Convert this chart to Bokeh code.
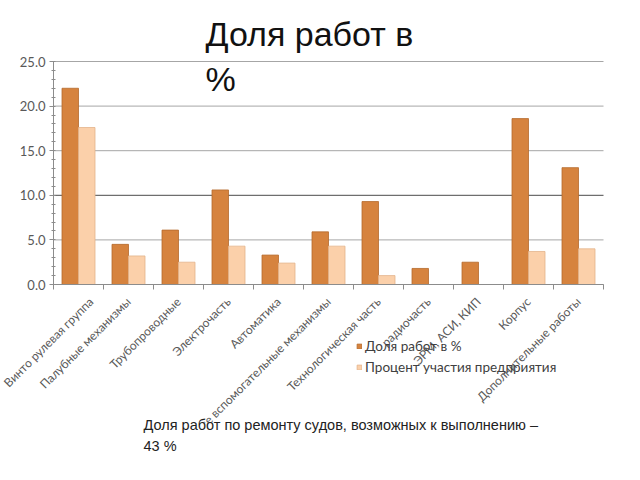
import math
from bokeh.plotting import figure
from bokeh.models import (ColumnDataSource, Range1d, FixedTicker, SingleIntervalTicker,
                          PrintfTickFormatter, Label, Legend, LegendItem, BoxAnnotation)
from bokeh.transform import dodge
from bokeh.embed import file_html
from bokeh.resources import INLINE

categories = ["Винто рулевая группа", "Палубные механизмы", "Трубопроводные",
              "Электрочасть", "Автоматика", "Судовые вспомогательные механизмы",
              "Технологическая часть", "радиочасть", "ЭРМ, АСИ, КИП", "Корпус",
              "Дополнительные работы"]
share_of_work = [22.0, 4.5, 6.1, 10.6, 3.3, 5.9, 9.3, 1.8, 2.5, 18.6, 13.1]
company_share = [17.6, 3.2, 2.5, 4.3, 2.4, 4.3, 1.0, 0.0, 0.0, 3.7, 4.0]
series_names = ["Доля работ в %", "Процент участия предприятия"]
y_ticks = [0, 5, 10, 15, 20, 25]
y_dark_tick = 10

# layout (pixels on the canvas)
W, H = 624, 464
plot_left, plot_right = 53, 603
plot_top, plot_bottom = 61, 284

n = len(categories)
idx = list(range(n))
src = ColumnDataSource(dict(idx=idx, a=share_of_work, b=company_share))

y_max = y_ticks[-1]
ppu_y = (plot_bottom - plot_top) / y_max
ppu_x = (plot_right - plot_left) / n
y_range = Range1d(-(H - plot_bottom) / ppu_y, y_max + plot_top / ppu_y)
x_range = Range1d(-0.5 - plot_left / ppu_x, n - 0.5 + (W - plot_right) / ppu_x)

p = figure(width=W, height=H, output_backend="svg", toolbar_location=None,
           x_range=x_range, y_range=y_range,
           min_border_left=0, min_border_right=0, min_border_top=0, min_border_bottom=0)
p.title.visible = False
p.outline_line_color = None
p.background_fill_color = "white"
p.border_fill_color = "white"
p.xgrid.visible = False
p.ygrid.visible = False

# horizontal grid lines across the plotting area
grid_src = ColumnDataSource(dict(
    y=y_ticks, x0=[-0.5] * len(y_ticks), x1=[n - 0.5] * len(y_ticks),
    color=["#4A4A4A" if t == y_dark_tick else "#A6A6A6" for t in y_ticks]))
p.segment(x0="x0", x1="x1", y0="y", y1="y", line_color="color", line_width=1,
          source=grid_src, level="underlay")

r1 = p.vbar(x=dodge("idx", -0.165, range=p.x_range), top="a", width=0.33, source=src,
            fill_color="#D6833E", line_color="#B56A2C", line_width=0.8)
r2 = p.vbar(x=dodge("idx", 0.165, range=p.x_range), top="b", width=0.33, source=src,
            fill_color="#FBD0AA", line_color="#E3B48C", line_width=0.8)

# x axis, drawn at y = 0
xa = p.xaxis[0]
xa.fixed_location = 0
xa.bounds = (-0.5, n - 0.5)
xa.ticker = FixedTicker(ticks=idx, minor_ticks=[i - 0.5 for i in range(n + 1)])
xa.major_label_overrides = {i: c for i, c in enumerate(categories)}
xa.major_label_orientation = math.pi / 4
xa.major_tick_line_color = None
xa.minor_tick_line_color = "#8C8C8C"
xa.minor_tick_out = 5
xa.minor_tick_in = 0
xa.axis_line_color = "#8C8C8C"
xa.major_label_text_font = "Lato"
xa.major_label_text_font_size = "12px"
xa.major_label_text_color = "#595959"
xa.major_label_standoff = 9

# y axis, drawn at the left edge of the first category
ya = p.yaxis[0]
ya.fixed_location = -0.5
ya.bounds = (0, y_max)
ya.ticker = SingleIntervalTicker(interval=y_ticks[1] - y_ticks[0], num_minor_ticks=5)
ya.formatter = PrintfTickFormatter(format="%.1f")
ya.axis_line_color = "#8C8C8C"
ya.major_tick_line_color = "#8C8C8C"
ya.major_tick_out = 4
ya.major_tick_in = 0
ya.minor_tick_line_color = "#8C8C8C"
ya.minor_tick_out = 2
ya.minor_tick_in = 2
ya.major_label_text_font = "Lato"
ya.major_label_text_font_size = "13px"
ya.major_label_text_color = "#595959"
ya.major_label_standoff = 4

legend = Legend(items=[LegendItem(label=series_names[0], renderers=[r1]),
                       LegendItem(label=series_names[1], renderers=[r2])],
                location=(356, H - 375), orientation="vertical",
                glyph_width=6, glyph_height=6, label_standoff=3, spacing=5,
                label_height=14, padding=0, margin=0,
                border_line_color=None, background_fill_alpha=0,
                label_text_font="Lato", label_text_font_size="13.5px",
                label_text_color="#404040")
p.add_layout(legend)

title = Label(x=205, y=H - 14, x_units="screen", y_units="screen",
              text="Доля работ в\n%", text_font="Liberation Sans",
              text_font_size="34px", text_color="#111111", text_baseline="top",
              text_line_height=1.19)
p.add_layout(title)

# white text box of the note under the chart
p.add_layout(BoxAnnotation(left=135, right=565, top=H - 422, bottom=H - 462,
                           left_units="screen", right_units="screen",
                           top_units="screen", bottom_units="screen",
                           fill_color="white", fill_alpha=1, line_color=None))
footer = Label(x=143, y=H - 416, x_units="screen", y_units="screen",
               text="Доля работ по ремонту судов, возможных к выполнению –\n43 %",
               text_font="Liberation Sans", text_font_size="14.5px",
               text_color="#222222", text_baseline="top", text_line_height=1.32)
p.add_layout(footer)

open("out.html", "w").write(file_html(p, INLINE))
